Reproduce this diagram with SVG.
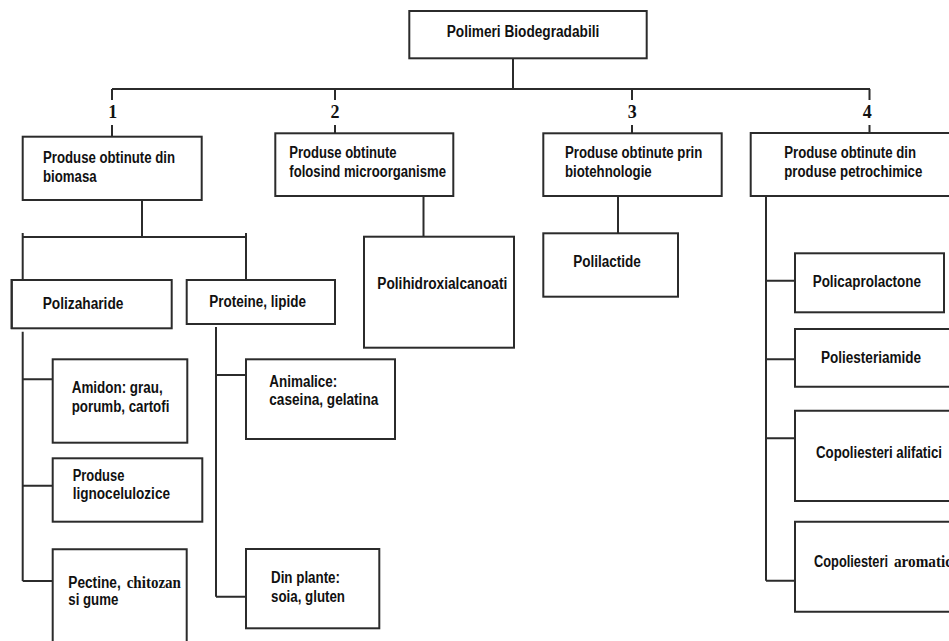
<svg xmlns="http://www.w3.org/2000/svg" width="949" height="641" viewBox="0 0 949 641">
<style>
.box{fill:#fff;stroke:#2b2b2b;stroke-width:2}
.ln{fill:none;stroke:#2b2b2b;stroke-width:2}
.t{font-family:"Liberation Sans",Arial,sans-serif;font-weight:bold;font-size:16px;fill:#111}
.s{font-family:"Liberation Serif","Times New Roman",serif;font-weight:bold;font-size:16.5px;fill:#111}
.n{font-family:"Liberation Serif","Times New Roman",serif;font-weight:bold;font-size:18px;fill:#111;text-anchor:middle}
</style>
<rect width="949" height="641" fill="#fff"/>
<g id="connectors" class="ln">
<path d="M513 58V89M112 89H870"/>
<path d="M112 89V100M112 125V137"/>
<path d="M335 89V100M335 125V133"/>
<path d="M632 89V100M632 125V133"/>
<path d="M869.5 89V100M869.5 125V133"/>
<path d="M142 190V237M22.7 237H246M22.7 233V280M246 233V280"/>
<path d="M22.7 331.7V581M22.7 379.3H52.7M22.7 485.7H52.7M22.7 581H52.7"/>
<path d="M216 327V596.7M216 375H246M216 596.7H246"/>
<path d="M423.5 190V236.7"/>
<path d="M618 189V233.3"/>
<path d="M766 189V580.7M766 280.7H795M766 359.3H795M766 438.3H795M766 580.7H795"/>
</g>
<g id="n-labels">
<text class="n" x="112.7" y="118">1</text>
<text class="n" x="335" y="118">2</text>
<text class="n" x="632.3" y="118">3</text>
<text class="n" x="867.3" y="118">4</text>
</g>
<g id="root">
<rect class="box" x="409.3" y="11" width="237.4" height="47.3"/>
<text class="t" x="446.7" y="36.7" textLength="152.6" lengthAdjust="spacingAndGlyphs">Polimeri Biodegradabili</text>
</g>
<g id="cat1">
<rect class="box" x="22.7" y="136.7" width="179" height="63.3"/>
<text class="t" x="43" y="163" textLength="132" lengthAdjust="spacingAndGlyphs">Produse obtinute din</text>
<text class="t" x="43" y="182" textLength="53.7" lengthAdjust="spacingAndGlyphs">biomasa</text>
</g>
<g id="cat2">
<rect class="box" x="275.3" y="133.3" width="178" height="62.7"/>
<text class="t" x="289.3" y="158.3" textLength="107.3" lengthAdjust="spacingAndGlyphs">Produse obtinute</text>
<text class="t" x="289.3" y="177" textLength="156.7" lengthAdjust="spacingAndGlyphs">folosind microorganisme</text>
</g>
<g id="cat3">
<rect class="box" x="543.3" y="133.3" width="178.4" height="62.7"/>
<text class="t" x="565" y="158.3" textLength="137.3" lengthAdjust="spacingAndGlyphs">Produse obtinute prin</text>
<text class="t" x="565" y="177" textLength="86.7" lengthAdjust="spacingAndGlyphs">biotehnologie</text>
</g>
<g id="cat4">
<path class="box" d="M950 133H750.7V196H950"/>
<text class="t" x="784.3" y="158.3" textLength="131.7" lengthAdjust="spacingAndGlyphs">Produse obtinute din</text>
<text class="t" x="784.3" y="177.3" textLength="138" lengthAdjust="spacingAndGlyphs">produse petrochimice</text>
</g>
<g id="polizaharide">
<rect class="box" x="11.7" y="280" width="160" height="48.3"/>
<line class="ln" x1="11.7" y1="279" x2="11.7" y2="329" stroke-width="3"/>
<text class="t" x="42.7" y="309" textLength="80.7" lengthAdjust="spacingAndGlyphs">Polizaharide</text>
</g>
<g id="proteine">
<rect class="box" x="186.7" y="280" width="148.3" height="44"/>
<text class="t" x="209.3" y="306.7" textLength="96.7" lengthAdjust="spacingAndGlyphs">Proteine, lipide</text>
</g>
<g id="amidon">
<rect class="box" x="52.7" y="359.3" width="134.6" height="83.4"/>
<text class="t" x="71.7" y="393" textLength="91" lengthAdjust="spacingAndGlyphs">Amidon: grau,</text>
<text class="t" x="71.7" y="411.7" textLength="97.7" lengthAdjust="spacingAndGlyphs">porumb, cartofi</text>
</g>
<g id="lignocelulozice">
<rect class="box" x="52.7" y="458.3" width="149.6" height="63.4"/>
<text class="t" x="72.7" y="481" textLength="51.7" lengthAdjust="spacingAndGlyphs">Produse</text>
<text class="t" x="72.7" y="499.3" textLength="97.3" lengthAdjust="spacingAndGlyphs">lignocelulozice</text>
</g>
<g id="pectine">
<path class="box" d="M52.7 642V549.3H186.7V642"/>
<text class="t" x="68.3" y="588.3" textLength="52.4" lengthAdjust="spacingAndGlyphs">Pectine,</text>
<text class="s" x="126.7" y="588.3" textLength="54.3" lengthAdjust="spacingAndGlyphs">chitozan</text>
<text class="t" x="68.3" y="605" textLength="50" lengthAdjust="spacingAndGlyphs">si gume</text>
</g>
<g id="animalice">
<rect class="box" x="246" y="359.3" width="149" height="79.7"/>
<text class="t" x="269.3" y="386.7" textLength="68" lengthAdjust="spacingAndGlyphs">Animalice:</text>
<text class="t" x="269.3" y="405" textLength="109" lengthAdjust="spacingAndGlyphs">caseina, gelatina</text>
</g>
<g id="din-plante">
<rect class="box" x="246" y="549" width="133.3" height="79.3"/>
<text class="t" x="271" y="583.3" textLength="69" lengthAdjust="spacingAndGlyphs">Din plante:</text>
<text class="t" x="271" y="601.7" textLength="74" lengthAdjust="spacingAndGlyphs">soia, gluten</text>
</g>
<g id="polihidroxialcanoati">
<rect class="box" x="364" y="236.7" width="150" height="111"/>
<text class="t" x="377.3" y="289.3" textLength="130" lengthAdjust="spacingAndGlyphs">Polihidroxialcanoati</text>
</g>
<g id="polilactide">
<rect class="box" x="543.3" y="233.3" width="134.7" height="63.4"/>
<text class="t" x="573.3" y="266.7" textLength="67.6" lengthAdjust="spacingAndGlyphs">Polilactide</text>
</g>
<g id="policaprolactone">
<rect class="box" x="795" y="253.3" width="149" height="59"/>
<text class="t" x="812.7" y="286.7" textLength="108.3" lengthAdjust="spacingAndGlyphs">Policaprolactone</text>
</g>
<g id="poliesteriamide">
<path class="box" d="M950 329H795V386.7H950"/>
<text class="t" x="821" y="362.7" textLength="100" lengthAdjust="spacingAndGlyphs">Poliesteriamide</text>
</g>
<g id="copoliesteri-alifatici">
<path class="box" d="M950 410.7H795V501H950"/>
<text class="t" x="816" y="458.3" textLength="126" lengthAdjust="spacingAndGlyphs">Copoliesteri alifatici</text>
</g>
<g id="copoliesteri-aromatici">
<path class="box" d="M950 521.7H795V611.7H950"/>
<text class="t" x="814" y="566.7" textLength="74" lengthAdjust="spacingAndGlyphs">Copoliesteri</text>
<text class="s" x="894" y="566.7" textLength="58" lengthAdjust="spacingAndGlyphs">aromatic</text>
</g>
</svg>
